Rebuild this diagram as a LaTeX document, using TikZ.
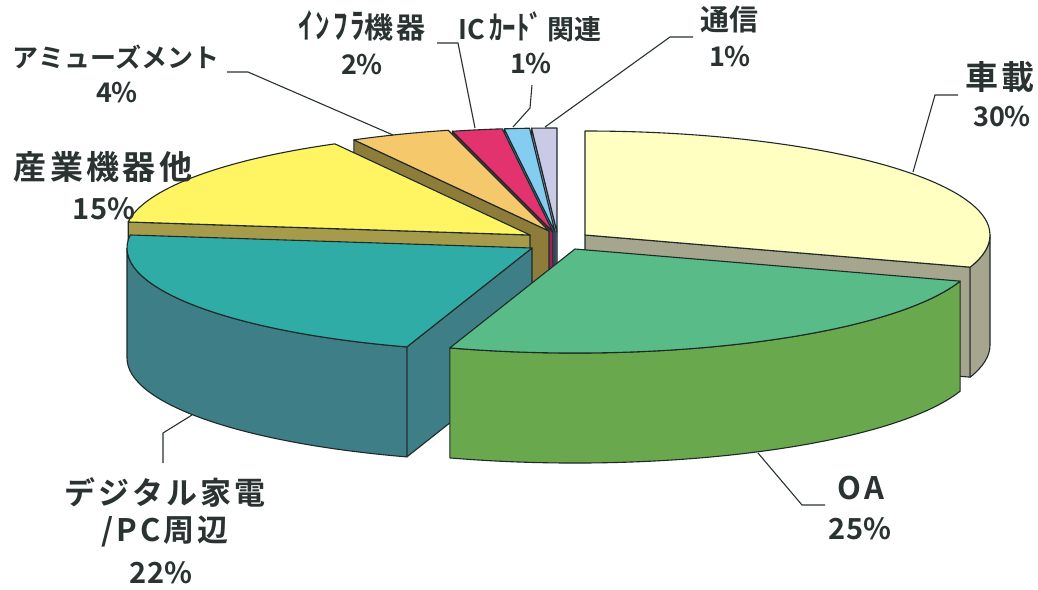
\documentclass[tikz,border=0pt]{standalone}
\usepackage{fontspec}
\newfontfamily\jp{Noto Sans CJK JP Bold}
\newfontfamily\jpls{Noto Sans CJK JP Bold}[LetterSpace=10]
\definecolor{shaTop}{HTML}{FFFFC2}\definecolor{shaSide}{HTML}{A6A68E}
\definecolor{oaTop}{HTML}{58BB88}\definecolor{oaSide}{HTML}{6AA84E}
\definecolor{digTop}{HTML}{30ACA7}\definecolor{digSide}{HTML}{3E7E86}
\definecolor{sanTop}{HTML}{FFF462}\definecolor{sanSide}{HTML}{A69B4A}
\definecolor{amuTop}{HTML}{F6C86C}\definecolor{amuSide}{HTML}{8E7C3A}
\definecolor{infTop}{HTML}{E2336F}\definecolor{infSide}{HTML}{A2205A}
\definecolor{icTop}{HTML}{84CCF0}\definecolor{icSide}{HTML}{3B86B8}
\definecolor{tsuTop}{HTML}{CACAE6}\definecolor{tsuSide}{HTML}{8C8CB0}
\definecolor{edgec}{HTML}{1E2A28}
\definecolor{txt}{HTML}{2A3232}
\tikzset{
  piece/.style={draw=edgec, line width=1.1pt, line join=round},
  lead/.style={draw=txt, line width=1.1pt},
  lbl/.style={text=txt, inner sep=0pt, anchor=center},
}
\newcommand\slicetop[5]{\filldraw[fill=#5,piece] ({#1+405*sin(#3)},{#2-104*cos(#3)}) arc[start angle={#3-90},end angle={#4-90},x radius=405,y radius=104] -- (#1,#2) -- cycle;}
\newcommand\slicewall[5]{\filldraw[fill=#5,piece] ({#1+405*sin(#3)},{#2-104*cos(#3)}) arc[start angle={#3-90},end angle={#4-90},x radius=405,y radius=104] -- ++(0,110) arc[start angle={#4-90},end angle={#3-90},x radius=405,y radius=104] -- cycle;}
\newcommand\sliceface[4]{\filldraw[fill=#4,piece] (#1,#2) -- ++({405*sin(#3)},{-104*cos(#3)}) -- ++(0,110) -- ++({-405*sin(#3)},{104*cos(#3)}) -- cycle;}
\newcommand\tallkana[1]{\scalebox{1}[1.2]{#1}}
\begin{document}
\begin{tikzpicture}[x=1pt,y=-1pt]
\useasboundingbox (0,0) rectangle (1038,589);
\fill[white] (0,0) rectangle (1038,589);
% 車載
\sliceface{585}{235}{108}{shaSide}
\slicewall{585}{235}{90}{108}{shaSide}
\slicetop{585}{235}{0}{108}{shaTop}
% 通信
\sliceface{557}{232}{356.4}{tsuSide}
\slicetop{557}{232}{356.4}{360}{tsuTop}
% IC
\sliceface{555}{232}{352.8}{icSide}
\slicetop{555}{232}{352.8}{356.4}{icTop}
% インフラ
\sliceface{553}{232}{345.6}{infSide}
\slicetop{553}{232}{345.6}{352.8}{infTop}
% アミューズメント
\sliceface{549}{231}{331.2}{amuSide}
\slicetop{549}{231}{331.2}{345.6}{amuTop}
% 産業機器他
\sliceface{530}{235}{277.2}{sanSide}
\slicetop{530}{235}{277.2}{331.2}{sanTop}
% デジタル家電
\sliceface{532}{248}{198}{digSide}
\slicewall{532}{248}{198}{270}{digSide}
\slicetop{532}{248}{198}{277.2}{digTop}
% OA
\slicewall{575}{249}{108}{198}{oaSide}
\slicetop{575}{249}{108}{198}{oaTop}

% labels
\node[lbl, font=\jpls\fontsize{33}{36}\selectfont] (shaL) at (1000,77) {車載};
\node[lbl, font=\jp\fontsize{27}{30}\selectfont] (shaP) at (1002,117) {30\%};
\node[lbl, font=\jp\fontsize{29}{32}\selectfont] (tsuL) at (729,20) {通信};
\node[lbl, font=\jp\fontsize{27}{30}\selectfont] (tsuP) at (730,57) {1\%};
\node[lbl, font=\jp\fontsize{27}{30}\selectfont] (icL) at (530,27) {IC\,\tallkana{ｶｰﾄﾞ}\,関連};
\node[lbl, font=\jp\fontsize{27}{30}\selectfont] (icP) at (531,64) {1\%};
\node[lbl, font=\jpls\fontsize{29}{32}\selectfont] (infL) at (362,26) {\tallkana{ｲﾝﾌﾗ}機器};
\node[lbl, font=\jp\fontsize{27}{30}\selectfont] (infP) at (362,65) {2\%};
\node[lbl, font=\jp\fontsize{26}{30}\selectfont] (amuL) at (116,57) {アミューズメント};
\node[lbl, font=\jp\fontsize{27}{30}\selectfont] (amuP) at (117,93) {4\%};
\node[lbl, font=\jpls\fontsize{33}{36}\selectfont] (sanL) at (103,167) {産業機器他};
\node[lbl, font=\jp\fontsize{29}{32}\selectfont] (sanP) at (104,209) {15\%};
\node[lbl, font=\jpls\fontsize{31}{34}\selectfont] (digL) at (165,492) {デジタル家電};
\node[lbl, font=\jpls\fontsize{31}{34}\selectfont] (digL2) at (165,531) {/PC周辺};
\node[lbl, font=\jp\fontsize{29}{32}\selectfont] (digP) at (161,573) {22\%};
\node[lbl, font=\jpls\fontsize{31}{34}\selectfont] (oaL) at (861,488) {OA};
\node[lbl, font=\jp\fontsize{29}{32}\selectfont] (oaP) at (860,529) {25\%};

% leader lines
\coordinate (shaA) at (913,172); \coordinate (shaB) at (935,95); \coordinate (shaC) at (958,95);
\coordinate (tsuA) at (545,127); \coordinate (tsuB) at (670,37); \coordinate (tsuC) at (693,37);
\coordinate (icA) at (513,127); \coordinate (icB) at (530,108); \coordinate (icC) at (532,85);
\coordinate (infA) at (475,128); \coordinate (infB) at (458,43); \coordinate (infC) at (437,43);
\coordinate (amuA) at (393,135); \coordinate (amuB) at (248,72); \coordinate (amuC) at (227,72);
\coordinate (digA) at (192,415); \coordinate (digB) at (163,433); \coordinate (digC) at (163,463);
\coordinate (oaA) at (758,453); \coordinate (oaB) at (802,505); \coordinate (oaC) at (825,505);
\draw[lead] (shaA) -- (shaB) -- (shaC);
\draw[lead] (tsuA) -- (tsuB) -- (tsuC);
\draw[lead] (icA) -- (icB) -- (icC);
\draw[lead] (infA) -- (infB) -- (infC);
\draw[lead] (amuA) -- (amuB) -- (amuC);
\draw[lead] (digA) -- (digB) -- (digC);
\draw[lead] (oaA) -- (oaB) -- (oaC);
\end{tikzpicture}
\end{document}
